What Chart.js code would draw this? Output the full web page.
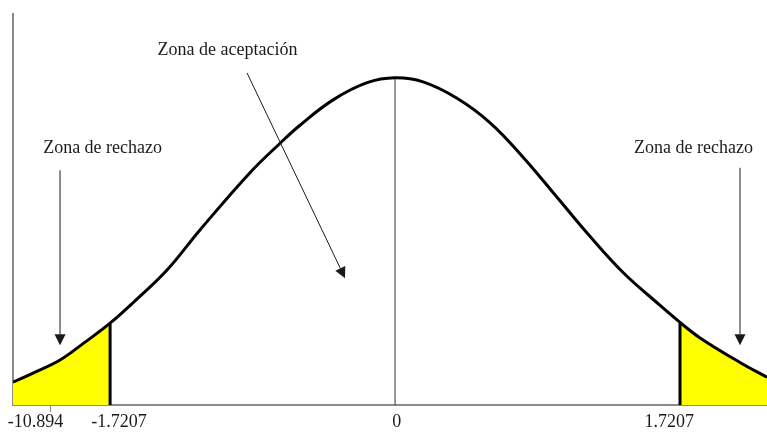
<!DOCTYPE html>
<html>
<head>
<meta charset="utf-8">
<script src="https://cdn.jsdelivr.net/npm/chart.js@4.4.1/dist/chart.umd.min.js"></script>
<style>
  html, body { margin: 0; padding: 0; background: #fff; }
  #wrap { width: 767px; height: 432px; position: relative; }
</style>
</head>
<body>
<div id="wrap"><canvas id="chart"></canvas></div>
<script>
// curve (z units, height)
let curveX = [-2.307, -2.186, -2.023, -1.884, -1.7207, -1.582, -1.377, -1.178, -0.876, -0.694, -0.574, -0.374, -0.169, 0,
              0.169, 0.374, 0.574, 0.773, 0.978, 1.178, 1.377, 1.582, 1.7207, 1.842, 2.083, 2.246];
let curveY = [0.028, 0.039, 0.055, 0.075, 0.100, 0.125, 0.165, 0.214, 0.284, 0.320, 0.342, 0.373, 0.394, 0.400,
              0.395, 0.375, 0.345, 0.303, 0.254, 0.206, 0.162, 0.125, 0.101, 0.082, 0.052, 0.034];

let critical = 1.7207;
let tickMarks = [-2.083];
let tickLabelPositions = [-2.171, -1.667, 0.01, 1.655];
let tickLabels = ['-10.894', '-1.7207', '0', '1.7207'];

let fontName = "'Liberation Serif', 'Times New Roman', serif";

function points(filter) {
  let out = [];
  for (let i = 0; i < curveX.length; i++) {
    if (filter(curveX[i])) out.push({ x: curveX[i], y: curveY[i] });
  }
  return out;
}

function heightAt(x) {
  let i = curveX.indexOf(x);
  return curveY[i];
}

// text (baseline) and arrows drawn on top, in data units
let notes = [
  { text: 'Zona de aceptación', x: -1.012, y: 0.428, from: [-0.894, 0.406], to: [-0.302, 0.155] },
  { text: 'Zona de rechazo', x: -1.766, y: 0.308, from: [-2.023, 0.287], to: [-2.023, 0.073] },
  { text: 'Zona de rechazo', x: 1.802, y: 0.308, from: [2.083, 0.290], to: [2.083, 0.073] }
];

const notesPlugin = {
  id: 'notes',
  afterDatasetsDraw(chart) {
    let ctx = chart.ctx;
    let xs = chart.scales.x, ys = chart.scales.y;
    ctx.save();
    ctx.fillStyle = '#1a1a1a';
    ctx.strokeStyle = '#1a1a1a';
    ctx.font = '18px ' + fontName;
    ctx.textAlign = 'center';
    ctx.textBaseline = 'alphabetic';
    notes.forEach(n => {
      ctx.fillText(n.text, xs.getPixelForValue(n.x), ys.getPixelForValue(n.y));
      let x1 = xs.getPixelForValue(n.from[0]), y1 = ys.getPixelForValue(n.from[1]);
      let x2 = xs.getPixelForValue(n.to[0]), y2 = ys.getPixelForValue(n.to[1]);
      let a = Math.atan2(y2 - y1, x2 - x1);
      let len = 11, half = 5.5;
      let bx = x2 - len * Math.cos(a), by = y2 - len * Math.sin(a);
      ctx.lineWidth = 1;
      ctx.beginPath();
      ctx.moveTo(x1, y1);
      ctx.lineTo(bx, by);
      ctx.stroke();
      ctx.beginPath();
      ctx.moveTo(x2, y2);
      ctx.lineTo(bx + half * Math.sin(a), by - half * Math.cos(a));
      ctx.lineTo(bx - half * Math.sin(a), by + half * Math.cos(a));
      ctx.closePath();
      ctx.fill();
    });
    // small tick below the axis
    ctx.strokeStyle = '#888';
    ctx.lineWidth = 1;
    tickMarks.forEach(v => {
      let px = Math.round(xs.getPixelForValue(v)) + 0.5;
      ctx.beginPath();
      ctx.moveTo(px, ys.bottom + 1);
      ctx.lineTo(px, ys.bottom + 7);
      ctx.stroke();
    });
    ctx.restore();
  }
};

let lineBase = { pointRadius: 0, fill: false, tension: 0 };

new Chart(document.getElementById('chart'), {
  type: 'line',
  data: {
    datasets: [
      {
        label: 'curva',
        data: points(x => true),
        borderColor: '#000',
        borderWidth: 3,
        pointRadius: 0,
        fill: false,
        tension: 0.4,
        order: 0
      },
      {
        label: 'rechazo izq',
        data: points(x => x <= -critical),
        borderWidth: 0,
        borderColor: 'rgba(0,0,0,0)',
        backgroundColor: '#ffff00',
        pointRadius: 0,
        fill: 'origin',
        tension: 0.4,
        order: 3
      },
      {
        label: 'rechazo der',
        data: points(x => x >= critical),
        borderWidth: 0,
        borderColor: 'rgba(0,0,0,0)',
        backgroundColor: '#ffff00',
        pointRadius: 0,
        fill: 'origin',
        tension: 0.4,
        order: 3
      },
      Object.assign({
        label: 'limite izq',
        data: [{ x: -critical, y: 0 }, { x: -critical, y: heightAt(-critical) }],
        borderColor: '#000',
        borderWidth: 3,
        order: 1
      }, lineBase),
      Object.assign({
        label: 'limite der',
        data: [{ x: critical, y: 0 }, { x: critical, y: heightAt(critical) }],
        borderColor: '#000',
        borderWidth: 3,
        order: 1
      }, lineBase),
      Object.assign({
        label: 'media',
        data: [{ x: 0, y: 0 }, { x: 0, y: heightAt(0) }],
        borderColor: '#333',
        borderWidth: 1,
        order: 2
      }, lineBase)
    ]
  },
  options: {
    responsive: true,
    maintainAspectRatio: false,
    animation: false,
    layout: { padding: { top: 14, right: 0, left: 0, bottom: 0 } },
    plugins: {
      legend: { display: false },
      tooltip: { enabled: false }
    },
    scales: {
      x: {
        type: 'linear',
        min: -2.307,
        max: 2.246,
        afterBuildTicks(scale) {
          scale.ticks = tickLabelPositions.map(v => ({ value: v }));
        },
        afterFit(scale) { scale.height = 27; },
        grid: {
          display: true,
          drawOnChartArea: false,
          drawTicks: true,
          tickLength: 6,
          tickColor: 'rgba(0,0,0,0)'
        },
        border: { display: true, color: '#8a8a8a', width: 2 },
        ticks: {
          autoSkip: false,
          maxRotation: 0,
          padding: 0,
          color: '#1a1a1a',
          font: { family: fontName, size: 18 },
          callback: (v, i) => tickLabels[i]
        }
      },
      y: {
        min: 0,
        max: 0.478,
        afterFit(scale) { scale.width = 13; },
        grid: { display: false },
        border: { display: true, color: '#8a8a8a', width: 2 },
        ticks: { display: false }
      }
    }
  },
  plugins: [notesPlugin]
});
</script>
</body>
</html>
